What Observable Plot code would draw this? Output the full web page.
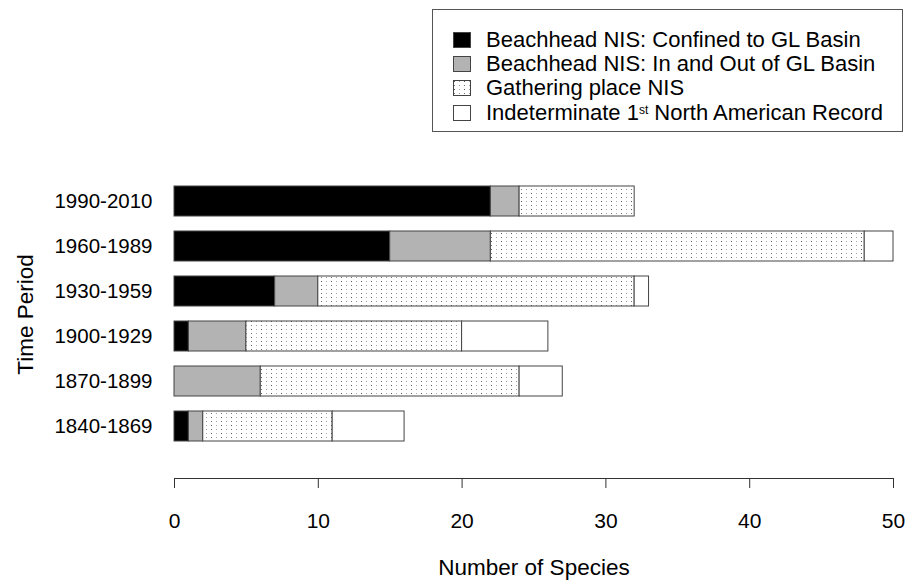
<!DOCTYPE html>
<html>
<head>
<meta charset="utf-8">
<script src="https://cdn.jsdelivr.net/npm/d3@7"></script>
<script src="https://cdn.jsdelivr.net/npm/@observablehq/plot@0.6"></script>
<style>
  html, body { margin: 0; padding: 0; background: #fff; }
  #wrap { position: relative; width: 910px; height: 583px; font-family: "Liberation Sans", Arial, sans-serif; }
  #legend { position: absolute; left: 432px; top: 9px; width: 471px; height: 123px; border: 1px solid #555; box-sizing: border-box; background: #fff; }
  .row { position: absolute; left: 20px; height: 22px; line-height: 22px; display: flex; align-items: center; font-size: 22px; color: #000; white-space: nowrap; }
  .row span { line-height: 22px; display: inline-block; height: 22px; }
  .row svg { margin-right: 15px; flex: none; }
  sup { font-size: 12px; vertical-align: 6px; line-height: 0; }
</style>
</head>
<body>
<svg width="0" height="0" style="position:absolute">
  <defs>
    <pattern id="dots" patternUnits="userSpaceOnUse" width="10" height="8">
      <rect width="10" height="8" fill="#fff"/>
      <rect x="1" y="1" width="1" height="1" fill="#555"/>
      <rect x="6" y="5" width="1" height="1" fill="#999"/>
      <rect x="6" y="1" width="1" height="1" fill="#aaa"/>
      <rect x="1" y="5" width="1" height="1" fill="#777"/>
    </pattern>
  </defs>
</svg>
<div id="wrap">
  <div id="chart"></div>
  <div id="legend"></div>
</div>
<script>
const periods = ["1990-2010", "1960-1989", "1930-1959", "1900-1929", "1870-1899", "1840-1869"];
const seriesNames = [
  "Beachhead NIS: Confined to GL Basin",
  "Beachhead NIS: In and Out of GL Basin",
  "Gathering place NIS",
  "Indeterminate 1st North American Record"
];
const confined      = [22, 15, 7, 1, 0, 1];
const inOut         = [2, 7, 3, 4, 6, 1];
const gathering     = [8, 26, 22, 15, 18, 9];
const indeterminate = [0, 2, 1, 6, 3, 5];
const xTicks = [0, 10, 20, 30, 40, 50];

const fills = ["#000000", "#b3b3b3", "url(#dots)", "#ffffff"];
const seriesValues = [confined, inOut, gathering, indeterminate];

const data = [];
periods.forEach((p, i) => {
  seriesValues.forEach((vals, s) => {
    if (vals[i] > 0) data.push({period: p, series: seriesNames[s], value: vals[i], order: s});
  });
});

const chart = Plot.plot({
  width: 910,
  height: 583,
  marginLeft: 174,
  marginRight: 17,
  marginTop: 150,
  marginBottom: 105,
  style: {fontFamily: "'Liberation Sans', Arial, sans-serif", fontSize: "20px", color: "#000", background: "#fff"},
  x: {domain: [0, 50], ticks: xTicks},
  y: {domain: periods, range: [178.5, 448.5], paddingInner: 1/3, paddingOuter: 1/6},
  color: {domain: seriesNames, range: fills},
  marks: [
    Plot.barX(data, Plot.stackX({x: "value", y: "period", fill: "series", order: "order", stroke: "#444", strokeWidth: 1, inset: 0})),
    Plot.frame({anchor: "bottom", stroke: "#333"}),
    Plot.axisX({ticks: xTicks, tickSize: 10, tickPadding: 25, fontSize: 21, label: null, stroke: "#333", tickFormat: d => d}),
    Plot.axisY({tickSize: 0, tickPadding: 22, fontSize: 20.5, label: null}),
    Plot.text(["Number of Species"], {frameAnchor: "bottom", dy: 96, fontSize: 22.5}),
    Plot.text(["Time Period"], {frameAnchor: "left", textAnchor: "middle", dx: -149, rotate: -90, fontSize: 22.5})
  ]
});
document.getElementById("chart").appendChild(chart);

// Legend
const legend = document.getElementById("legend");
const rowTops = [19, 43, 67, 92];
seriesNames.forEach((name, i) => {
  const row = document.createElement("div");
  row.className = "row";
  row.style.top = rowTops[i] + "px";
  const sw = `<svg width="18" height="16"><rect x="0.5" y="0.5" width="17" height="15" fill="${fills[i]}" stroke="#444"/></svg>`;
  let label = name;
  if (i === 3) label = "Indeterminate 1<sup>st</sup> North American Record";
  row.innerHTML = sw + "<span>" + label + "</span>";
  legend.appendChild(row);
});
</script>
</body>
</html>
